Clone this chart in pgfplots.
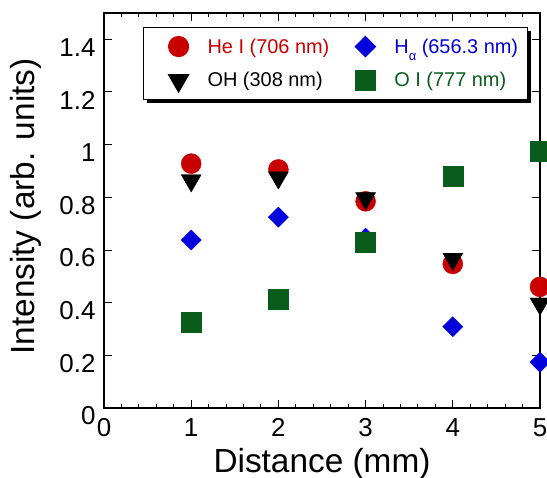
\documentclass[border=0pt]{standalone}
\usepackage{pgfplots}
\pgfplotsset{compat=1.18}
\usepackage{fontspec}
\setmainfont{Liberation Sans}
\usetikzlibrary{shadows}
\definecolor{heR}{RGB}{200,0,0}
\definecolor{haB}{RGB}{0,0,220}
\definecolor{oiG}{RGB}{10,92,28}
\begin{document}
\begin{tikzpicture}
\begin{axis}[
  name=ax,
  width=436bp, height=395bp, scale only axis,
  xmin=0, xmax=5, ymin=0, ymax=1.5,
  xtick={0,1,2,3,4,5},
  ytick={0,0.2,0.4,0.6,0.8,1,1.2,1.4},
  minor x tick num=4,
  tick align=inside,
  major tick length=8bp, minor tick length=4.5bp,
  axis line style={line width=1.2bp},
  every tick/.style={black, line width=1bp},
  /pgf/number format/assume math mode=true,
  tick label style={font=\fontsize{26}{26}\selectfont},
  yticklabel style={yshift=-8bp, xshift=-5bp},
  xticklabel style={yshift=-7bp},
  label style={font=\fontsize{33.5}{33.5}\selectfont},
  xlabel={Distance (mm)},
  ylabel={Intensity (arb. units)},
  xlabel style={at={(axis description cs:0.5,0)}, anchor=base, yshift=-64bp},
  ylabel style={at={(axis description cs:-0.1583,0.51)}, anchor=base},
  only marks,
  legend columns=2,
  legend cell align=left,
  legend image code/.code={%
    \pgfpathmoveto{\pgfpoint{0bp}{0bp}}%
    \pgfpathlineto{\pgfpoint{55bp}{0bp}}%
    \pgfusepath{use as bounding box}%
    \draw[#1, only marks] plot coordinates {(28bp,0bp)};},
  legend style={at={(0.0894,0.9646)}, anchor=north west,
    draw=black, line width=1.2bp, fill=white,
    drop shadow={shadow xshift=3.5bp, shadow yshift=-3.5bp, fill=black, opacity=1},
    font=\fontsize{20}{20}\selectfont,
    inner xsep=7bp, inner ysep=8bp,
    nodes={inner ysep=3bp},
    row sep=12bp,
    /tikz/every even column/.append style={column sep=6bp}},
]
\addplot[mark=*, mark size=10bp, color=heR] coordinates {(1,0.928) (2,0.906) (3,0.785) (4,0.547) (5,0.46)};
\addlegendentry{\textcolor{heR}{He I (706 nm)}}
\addplot[mark=square*, mark size=7.1bp, mark options={rotate=45}, color=haB] coordinates {(1,0.638) (2,0.725) (3,0.645) (4,0.309) (5,0.174)};
\addlegendentry{\textcolor{haB}{H\raisebox{-0.7ex}{\fontsize{13}{13}\selectfont α} (656.3 nm)}}
\addplot[mark=triangle*, mark size=11.5bp, mark options={rotate=180}, color=black] coordinates {(1,0.864) (2,0.875) (3,0.796) (4,0.566) (5,0.396)};
\addlegendentry{OH (308 nm)}
\addplot[mark=square*, mark size=10bp, color=oiG] coordinates {(1,0.325) (2,0.415) (3,0.63) (4,0.879) (5,0.974)};
\addlegendentry{\textcolor{oiG}{O I (777 nm)}}
\end{axis}
\pgfresetboundingbox
\path ([shift={(-104bp,-69bp)}]ax.south west) rectangle ([shift={(7bp,13bp)}]ax.north east);
\end{tikzpicture}
\end{document}
